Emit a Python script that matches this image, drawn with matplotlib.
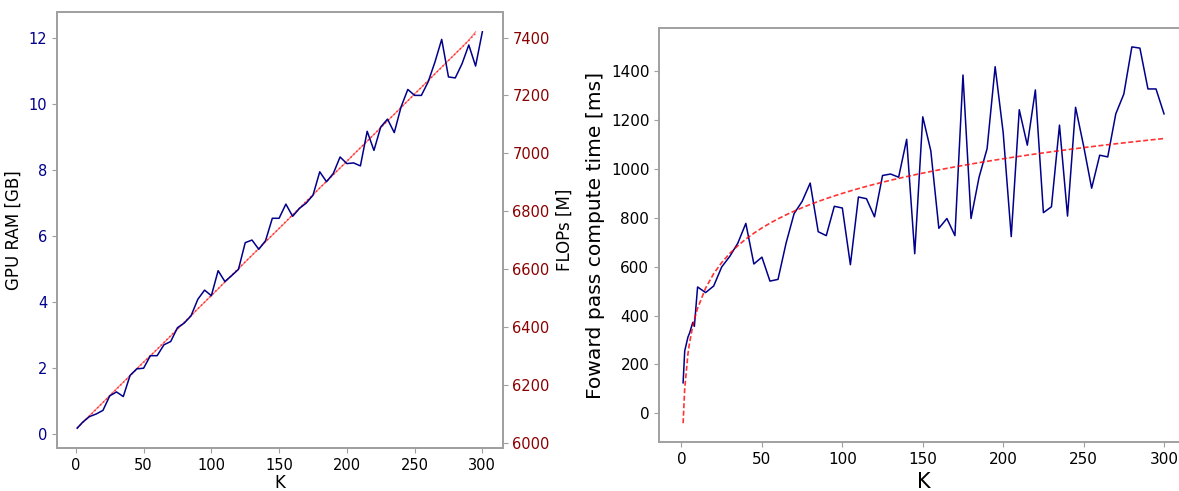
import numpy as np
import matplotlib
matplotlib.use('Agg')
import matplotlib.pyplot as plt

# K values for the memory / FLOPs plot
k_mem = [1] + list(range(5, 301, 5))
gpu_ram = [0.17, 0.35, 0.52, 0.60, 0.71, 1.15, 1.27, 1.13, 1.77, 1.97,
           1.99, 2.37, 2.37, 2.70, 2.80, 3.22, 3.36, 3.58, 4.08, 4.36,
           4.19, 4.95, 4.62, 4.80, 4.99, 5.80, 5.88, 5.60, 5.86, 6.54,
           6.54, 6.97, 6.60, 6.84, 7.00, 7.24, 7.95, 7.65, 7.90, 8.40,
           8.20, 8.22, 8.13, 9.18, 8.60, 9.31, 9.55, 9.14, 9.92, 10.45,
           10.27, 10.27, 10.68, 11.28, 11.97, 10.83, 10.80, 11.23, 11.80, 11.16,
           12.20]

k_flops = [1] + list(range(5, 296, 5))
flops = [6051, 6070, 6093, 6116, 6139, 6163, 6186, 6209, 6232, 6256,
         6279, 6300, 6322, 6345, 6368, 6392, 6415, 6438, 6462, 6485,
         6508, 6531, 6555, 6578, 6600, 6624, 6647, 6670, 6694, 6717,
         6740, 6763, 6787, 6810, 6833, 6856, 6880, 6903, 6926, 6949,
         6972, 6996, 7019, 7042, 7065, 7089, 7112, 7135, 7158, 7182,
         7205, 7228, 7251, 7275, 7298, 7321, 7344, 7367, 7391, 7420]

# K values for the timing plot
k_time = [1, 2, 4, 5, 7, 8] + list(range(10, 301, 5))
fwd_time = [125, 255, 312, 328, 372, 356, 517, 494, 521, 599,
            642, 696, 777, 611, 639, 541, 548, 696, 817, 867,
            942, 743, 727, 847, 840, 608, 885, 878, 804, 973,
            979, 966, 1121, 653, 1213, 1074, 757, 797, 727, 1384,
            797, 966, 1083, 1418, 1148, 723, 1242, 1097, 1323, 821,
            845, 1179, 807, 1252, 1094, 921, 1056, 1049, 1225, 1306,
            1499, 1494, 1327, 1327, 1225]

spine_col = '#a0a0a0'

fig = plt.figure(figsize=(11.79, 4.91), dpi=100)

# ---- left: GPU RAM + FLOPs
ax1 = fig.add_axes([0.0483, 0.0876, 0.378, 0.888])
ax1.plot(k_mem, gpu_ram, color='darkblue', lw=1.1, zorder=3)
ax1.set_xlabel('K', fontsize=12, labelpad=1)
ax1.set_ylabel('GPU RAM [GB]', fontsize=12)
ax1.tick_params(axis='y', labelcolor='darkblue', labelsize=10.5, color=spine_col)
ax1.tick_params(axis='x', labelsize=10.5, color=spine_col)
ax1.set_xticks([0, 50, 100, 150, 200, 250, 300])

ax2 = ax1.twinx()
ax2.plot(k_flops, flops, color='red', lw=0.9, alpha=0.5)
fit = np.polyfit(k_flops, flops, 1)
ax2.plot(k_flops, np.polyval(fit, k_flops), color='red', lw=1.1, ls=':', alpha=0.7)
ax2.set_ylabel('FLOPs [M]', fontsize=12)
ax2.tick_params(axis='y', labelcolor='darkred', labelsize=10.5, color=spine_col)
ax1.set_zorder(ax2.get_zorder() + 1)
ax1.patch.set_visible(False)

for ax in (ax1, ax2):
    for s in ax.spines.values():
        s.set_color(spine_col)
        s.set_linewidth(1.4)

# ---- right: forward pass time
ax3 = fig.add_axes([0.559, 0.0998, 0.4487, 0.843])
ax3.plot(k_time, fwd_time, color='darkblue', lw=1.1)
lfit = np.polyfit(np.log(k_time), fwd_time, 1)
ax3.plot(k_time, np.polyval(lfit, np.log(k_time)), color='red', lw=1.2,
         ls=(0, (3, 1.5)), alpha=0.8)
ax3.set_xlabel('K', fontsize=15, labelpad=4)
ax3.set_ylabel('Foward pass compute time [ms]', fontsize=14.6)
ax3.tick_params(labelsize=11, color=spine_col)
ax3.set_xticks([0, 50, 100, 150, 200, 250, 300])
for s in ax3.spines.values():
    s.set_color(spine_col)
    s.set_linewidth(1.4)

fig.savefig('out.png', dpi=100)
